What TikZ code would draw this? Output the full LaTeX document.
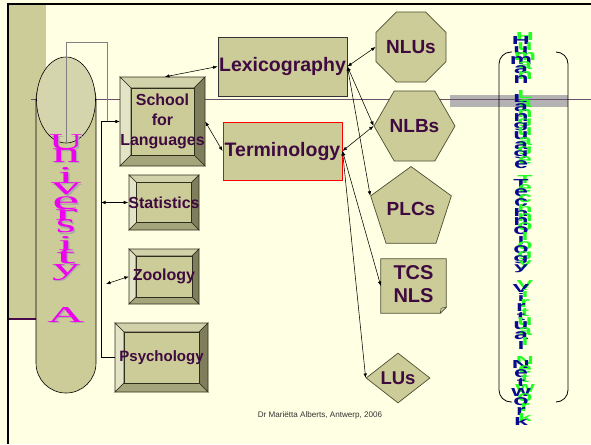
\documentclass[tikz,border=0pt]{standalone}
\usepackage{fontspec}
\setmainfont{Liberation Sans}
\newfontfamily\waserif{Liberation Serif}
\usepackage{graphicx}
\usetikzlibrary{shapes.geometric, arrows.meta, calc}

\definecolor{paper}{HTML}{FFFFE3}
\definecolor{olive}{HTML}{CCCC99}
\definecolor{ellfill}{HTML}{D5D5AD}
\definecolor{bevleft}{HTML}{E3E3C6}
\definecolor{bevtop}{HTML}{D2D2AA}
\definecolor{bevright}{HTML}{7E7E5C}
\definecolor{bevbot}{HTML}{A5A57B}
\definecolor{bevline}{HTML}{2E2E1E}
\definecolor{shapeline}{HTML}{4D4D33}
\definecolor{inkpurple}{HTML}{3F0A3F}
\definecolor{unimag}{HTML}{F000F0}
\definecolor{unishadow}{HTML}{A8A8A8}
\definecolor{rulepurple}{HTML}{6B4F6B}
\definecolor{bandpurple}{HTML}{4A0A4A}
\definecolor{bandgray}{HTML}{B3B3B3}
\definecolor{wiregray}{HTML}{808080}
\definecolor{lexline}{HTML}{333333}
\definecolor{hltnavy}{HTML}{0A0A8C}
\definecolor{hltgreen}{HTML}{22FF22}
\definecolor{footgray}{HTML}{333333}

% bevelled box: name, cx, cy, width, height, bevel depth, font size, label
\newcommand\bevbox[8]{%
  \pgfmathsetmacro\bxl{#2-#4/2}\pgfmathsetmacro\bxr{#2+#4/2}%
  \pgfmathsetmacro\byt{#3-#5/2}\pgfmathsetmacro\byb{#3+#5/2}%
  \pgfmathsetmacro\bil{\bxl+#6}\pgfmathsetmacro\bir{\bxr-#6}%
  \pgfmathsetmacro\bit{\byt+#6}\pgfmathsetmacro\bib{\byb-#6}%
  \filldraw[facet, fill=bevtop] (\bxl,\byt) -- (\bxr,\byt) -- (\bir,\bit) -- (\bil,\bit) -- cycle;
  \filldraw[facet, fill=bevleft] (\bxl,\byt) -- (\bil,\bit) -- (\bil,\bib) -- (\bxl,\byb) -- cycle;
  \filldraw[facet, fill=bevright] (\bxr,\byt) -- (\bxr,\byb) -- (\bir,\bib) -- (\bir,\bit) -- cycle;
  \filldraw[facet, fill=bevbot] (\bxl,\byb) -- (\bil,\bib) -- (\bir,\bib) -- (\bxr,\byb) -- cycle;
  \filldraw[facet, fill=olive] (\bil,\bit) rectangle (\bir,\bib);
  \node[boxlabel, minimum width=#4pt, minimum height=#5pt,
        font=\fontsize{#7}{20}\selectfont\bfseries] (#1) at (#2,#3) {#8};
}

% one stacked letter of the university banner, with its grey shadow:
% name, y, width, height, letter
\newcommand\uniletter[5]{%
  \node[inner sep=0pt] (#1) at (66,#2)
    {\rlap{\smash{\kern1.3pt\raisebox{-1.3pt}{\textcolor{unishadow}{\resizebox*{#3pt}{#4pt}{\waserif #5}}}}}%
     \textcolor{unimag}{\resizebox*{#3pt}{#4pt}{\waserif #5}}};
}

% stacked letters of the network banner, each with a green echo
\newcommand\hltglyph[1]{\resizebox*{2.5\width}{8pt}{\fontsize{10}{10}\selectfont\bfseries #1}}
\newcommand\hltword[2]{%
  \foreach \lt [count=\hk from #1] in {#2} {
    \pgfmathsetmacro\yy{41+9.5*\hk}
    \node[inner sep=0pt] (hl\hk) at (521,\yy)
      {\rlap{\smash{\kern4pt\raisebox{4pt}{\textcolor{hltgreen}{\hltglyph{\lt}}}}}%
       \textcolor{hltnavy}{\hltglyph{\lt}}};
  }%
}

\begin{document}
\begin{tikzpicture}[x=1pt, y=-1pt,
  >={Latex[length=4.5pt,width=3.5pt]},
  conn/.style={draw=black, line width=0.55pt},
  graywire/.style={draw=wiregray, line width=0.8pt},
  facet/.style={draw=bevline, line width=0.6pt},
  boxlabel/.style={text=inkpurple, inner sep=0pt, align=center},
  figure/.style={draw=shapeline, fill=olive, line width=0.7pt, inner sep=0pt,
                 text=inkpurple, font=\fontsize{19}{22}\selectfont\bfseries},
]
\useasboundingbox (0,0) rectangle (591,444);
\fill[paper] (0,0) rectangle (591,444);

% slide frame and background bands
\fill[olive] (8,5) rectangle (46,318);
\draw[bandpurple, line width=2pt] (8,318.5) -- (40,318.5);
\fill[bandgray] (450,95) rectangle (568,107);
\draw[rulepurple, line width=1.4pt] (31,99.5) -- (591,99.5);
\draw[line width=2.2pt] (7,4) -- (591,4);
\draw[line width=2pt] (7.5,3) -- (7.5,444);

% university column
\filldraw[fill=olive, draw=black, line width=0.6pt, rounded corners=30pt] (36,70) rectangle (96,393);
\node[ellipse, draw=black, fill=ellfill, line width=0.6pt, minimum width=59pt,
      minimum height=86pt, inner sep=0pt] (unihead) at (66,100) {};

\coordinate (ubase) at (66,142);
\coordinate (elbowtop) at (107,42);
\coordinate (ejoin) at (107,121.5);
\draw[graywire] (ubase) |- (elbowtop) -- (ejoin);

\uniletter{lU}{142.5}{34}{15}{U}
\uniletter{ln}{155.5}{28}{14}{n}
\uniletter{li}{175}{16}{16}{i}
\uniletter{lv}{189}{30}{12}{v}
\uniletter{le}{203.5}{27}{13}{e}
\uniletter{lr}{215}{23}{11}{r}
\uniletter{ls}{226.5}{20}{13}{s}
\uniletter{lii}{243.5}{16}{14}{i}
\uniletter{lt}{256.5}{19}{14}{t}
\uniletter{ly}{272.5}{28}{16}{y}
\uniletter{lA}{314.5}{37}{15}{A}

% departments
\bevbox{school}{162.5}{121.5}{85}{89}{11}{16}{School\\for\\Languages}
\bevbox{stat}{164}{202.5}{70}{55}{7.5}{16}{Statistics}
\bevbox{zoo}{164}{276.5}{70}{55}{7}{16}{Zoology}
\bevbox{psy}{161.5}{357.5}{93}{69}{9}{15}{Psychology}

% disciplines
\node[draw=lexline, fill=olive, line width=0.8pt, minimum width=129pt, minimum height=59pt,
      boxlabel, font=\fontsize{19.5}{22}\selectfont\bfseries] (lex) at (282.5,66.5) {Lexicography};
\node[draw=red, fill=olive, line width=1pt, minimum width=119pt, minimum height=58pt,
      boxlabel, font=\fontsize{19.5}{22}\selectfont\bfseries] (term) at (282.5,151) {Terminology};

% products
\node[figure, regular polygon, regular polygon sides=8, minimum size=65pt] (nlu) at (411,47) {NLUs};
\node[figure, regular polygon, regular polygon sides=6, minimum size=69pt] (nlb) at (414.5,126) {NLBs};
\node[figure, regular polygon, regular polygon sides=5, minimum size=68pt] (plc) at (411,209) {PLCs};

\path node[inner sep=0pt, minimum width=65pt, minimum height=54pt] (tcsbox) at (413.5,286) {};
\filldraw[draw=shapeline, fill=olive, line width=0.7pt]
  (tcsbox.north west) -- (tcsbox.north east) -- ([yshift=6pt]tcsbox.south east)
  -- ([xshift=-6pt]tcsbox.south east) -- (tcsbox.south west) -- cycle;
\filldraw[draw=shapeline, fill=bevtop, line width=0.5pt]
  ([yshift=6pt]tcsbox.south east) -- ([xshift=-5pt,yshift=5pt]tcsbox.south east)
  -- ([xshift=-6pt]tcsbox.south east) -- cycle;
\node[boxlabel, font=\fontsize{20}{22.5}\selectfont\bfseries] (tcs) at (413.5,284) {TCS\\NLS};

\node[figure, diamond, aspect=1.28, minimum width=64pt, minimum height=50pt,
      font=\fontsize{18.5}{22}\selectfont\bfseries] (lu) at (398,378) {LUs};

% links between the university and its departments
\coordinate (vtop) at (101,121.5);
\coordinate (sv) at (101,202.5);
\coordinate (zfree) at (106,284);
\draw[conn, ->] (vtop) -- (school.west);
\draw[conn] (vtop) |- (psy.west);
\draw[conn, <->] (sv) -- (stat.west);
\draw[conn, <->] (zfree) -- (zoo.west);
\draw[conn, <->] (lex.west) -- ([xshift=2.5pt]school.north);
\draw[conn, <->] (school.east) -- (term.west);

% links from the disciplines to their products
\draw[conn, <->] (lex.east) -- (nlu.west);
\draw[conn, <->] (lex.east) -- (nlb.west);
\draw[conn, <->] (lex.east) -- (plc.corner 2);
\draw[conn, <->] (term.east) -- (nlb.west);
\draw[conn, <->] (term.east) -- (tcsbox.west);
\draw[conn, <->] (term.east) -- (lu.west);

% network banner
\draw[line width=0.8pt, rounded corners=12pt] (512,52) -- (499,52) -- (499,402) -- (512,402);
\draw[line width=0.8pt, rounded corners=12pt] (556,52) -- (568,52) -- (568,402) -- (556,402);
\hltword{0}{H,u,m,a,n}
\hltword{6}{L,a,n,g,u,a,g,e}
\hltword{15}{T,e,c,h,n,o,l,o,g,y}
\hltword{26}{V,i,r,t,u,a,l}
\hltword{34}{N,e,t,w,o,r,k}

\node[text=footgray, inner sep=0pt, font=\fontsize{8.1}{9}\selectfont] (foot) at (320,415)
  {Dr Mariëtta Alberts, Antwerp, 2006};
\end{tikzpicture}
\end{document}
